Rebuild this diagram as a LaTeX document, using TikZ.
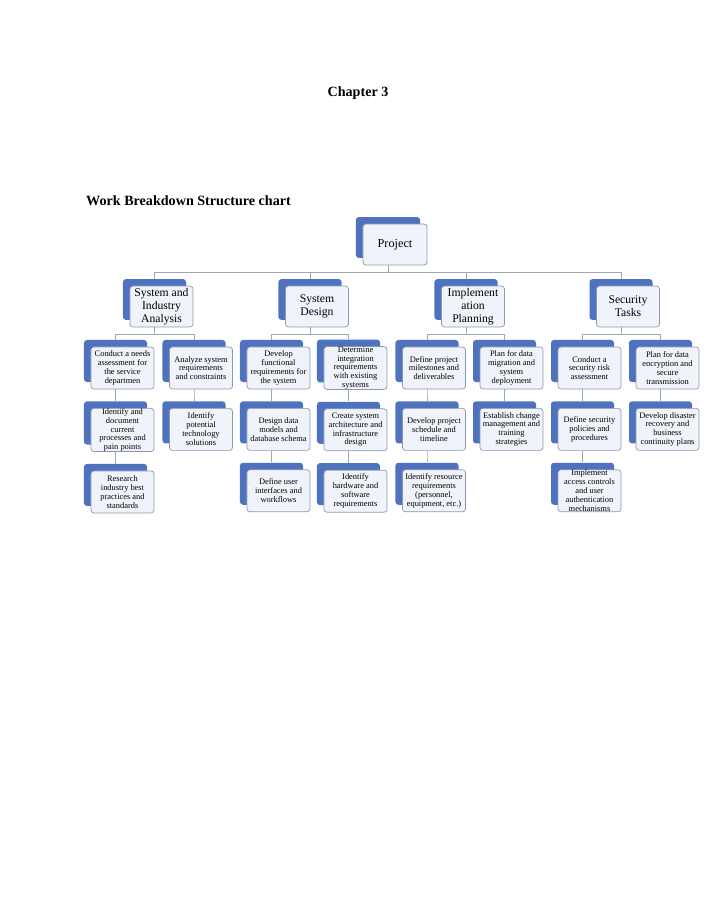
\documentclass[tikz,border=0pt]{standalone}
\usepackage{fontspec}
\setmainfont{Liberation Serif}
\usetikzlibrary{positioning, shadows}
\definecolor{wbsblue}{RGB}{79,114,190}
\definecolor{wbsfill}{RGB}{240,244,250}
\definecolor{wbsline}{RGB}{140,152,178}
\definecolor{wbslink}{RGB}{160,166,178}
\tikzset{
  node distance=16pt,
  box/.style={draw=wbsline, line width=0.6pt, fill=wbsfill, rounded corners=2.5pt, align=center,
    inner xsep=1pt, inner ysep=0pt, minimum width=54pt,
    general shadow={shadow xshift=-6pt, shadow yshift=6pt, fill=wbsblue}},
  top/.style={box, minimum width=55pt, minimum height=35pt, font=\fontsize{10.5}{12}\selectfont},
  phase/.style={box, minimum height=35pt, font=\fontsize{10}{11}\selectfont},
  task/.style={box, minimum height=36pt, font=\fontsize{7.2}{7.6}\selectfont},
  link/.style={draw=wbslink, line width=0.6pt,
    to path={([xshift=-6pt]\tikztostart.south) -- ++(0,-6pt) -| ([shift={(-6pt,6pt)}]\tikztotarget.north)}},
  heading/.style={inner sep=0pt, font=\bfseries\fontsize{12.1}{14}\selectfont},
}

\begin{document}
\begin{tikzpicture}[x=0.857pt, y=-0.857pt]
        \useasboundingbox (0,0) rectangle (714,918);

        % headings
        \node[heading, anchor=base] (chap) at (358,97) {Chapter 3};
        \node[heading, anchor=base west] (title) at (86,205) {Work Breakdown Structure chart};

        % top and phases
        \node[top] (prj) at (395,244.5) {Project};
        \node[phase] (sia) at (161.5,306.5) {System and\\Industry\\Analysis};
        \node[phase] (sd) at (317,306.5) {System\\Design};
        \node[phase] (ip) at (473,306.5) {Implement\\ation\\Planning};
        \node[phase] (st) at (628,306.5) {Security\\Tasks};

        % work packages
        \node[task] (c1a) at (122.5,368) {Conduct a needs\\assessment for\\the service\\departmen};
        \node[task, below=of c1a] (c1b) {Identify and\\document\\current\\processes and\\pain points};
        \node[task, below=of c1b] (c1c) {Research\\industry best\\practices and\\standards};
        \node[task] (c2a) at (201,368) {Analyze system\\requirements\\and constraints};
        \node[task, below=of c2a] (c2b) {Identify\\potential\\technology\\solutions};
        \node[task] (c3a) at (278.5,368) {Develop\\functional\\requirements for\\the system};
        \node[task, below=of c3a] (c3b) {Design data\\models and\\database schema};
        \node[task, below=of c3b] (c3c) {Define user\\interfaces and\\workflows};
        \node[task] (c4a) at (355.5,368) {Determine\\integration\\requirements\\with existing\\systems};
        \node[task, below=of c4a] (c4b) {Create system\\architecture and\\infrastructure\\design};
        \node[task, below=of c4b] (c4c) {Identify\\hardware and\\software\\requirements};
        \node[task] (c5a) at (434,368) {Define project\\milestones and\\deliverables};
        \node[task, below=of c5a] (c5b) {Develop project\\schedule and\\timeline};
        \node[task, below=of c5b] (c5c) {Identify resource\\requirements\\(personnel,\\equipment, etc.)};
        \node[task] (c6a) at (511.5,368) {Plan for data\\migration and\\system\\deployment};
        \node[task, below=of c6a] (c6b) {Establish change\\management and\\training\\strategies};
        \node[task] (c7a) at (589.5,368) {Conduct a\\security risk\\assessment};
        \node[task, below=of c7a] (c7b) {Define security\\policies and\\procedures};
        \node[task, below=of c7b] (c7c) {Implement\\access controls\\and user\\authentication\\mechanisms};
        \node[task] (c8a) at (667.5,368) {Plan for data\\encryption and\\secure\\transmission};
        \node[task, below=of c8a] (c8b) {Develop disaster\\recovery and\\business\\continuity plans};

        % links
        \path (prj) edge[link] (sia) edge[link] (sd) edge[link] (ip) edge[link] (st)
              (sia) edge[link] (c1a) edge[link] (c2a)
              (sd) edge[link] (c3a) edge[link] (c4a)
              (ip) edge[link] (c5a) edge[link] (c6a)
              (st) edge[link] (c7a) edge[link] (c8a)
              (c1a) edge[link] (c1b) (c1b) edge[link] (c1c)
              (c2a) edge[link] (c2b)
              (c3a) edge[link] (c3b) (c3b) edge[link] (c3c)
              (c4a) edge[link] (c4b) (c4b) edge[link] (c4c)
              (c5a) edge[link] (c5b) (c5b) edge[link] (c5c)
              (c6a) edge[link] (c6b)
              (c7a) edge[link] (c7b) (c7b) edge[link] (c7c)
              (c8a) edge[link] (c8b);
      \end{tikzpicture}
\end{document}
